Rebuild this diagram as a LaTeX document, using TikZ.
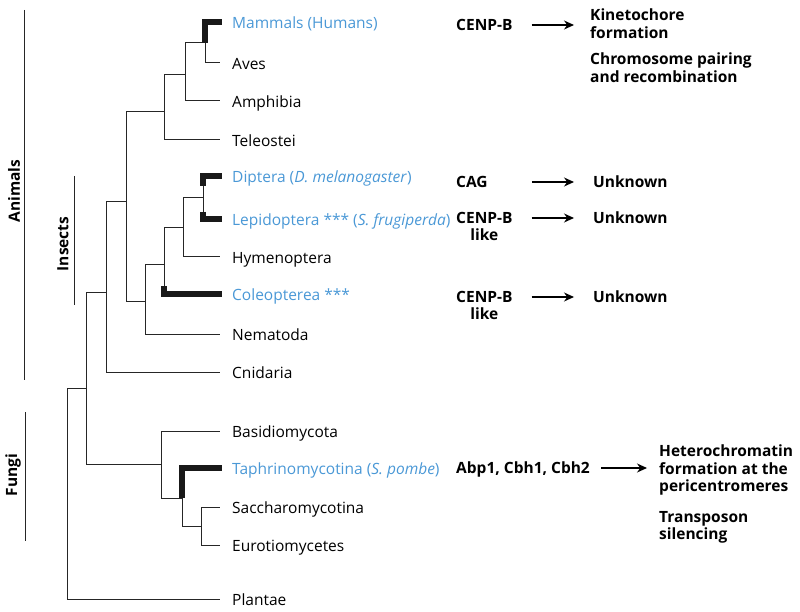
\documentclass[tikz,border=0pt]{standalone}
\usepackage{fontspec}
\setmainfont{Open Sans}
\usepackage{tikz}
\usetikzlibrary{arrows.meta,positioning,calc}
\definecolor{taxblue}{RGB}{74,152,214}

\begin{document}
\begin{tikzpicture}[x=1pt,y=-1pt]
	\tikzstyle{Branch}	= [line width=1pt, black!85]
	\tikzstyle{Hit}		= [line width=6pt, black!90]
	\tikzstyle{Taxon}	= [anchor=west, inner sep=0pt, text height=11pt, text depth=3pt, yshift=-2.5pt, font=\fontsize{15.5}{18}\selectfont]
	\tikzstyle{Found}	= [Taxon, taxblue]
	\tikzstyle{Prot}	= [anchor=west, inner sep=0pt, text height=11.5pt, text depth=0pt, font=\fontsize{15.5}{18}\selectfont\bfseries]
	\tikzstyle{Role}	= [anchor=north west, inner sep=0pt, align=left, font=\fontsize{15.5}{17.5}\selectfont\bfseries]
	\tikzstyle{Group}	= [rotate=90, inner sep=0pt, font=\fontsize{15.5}{18}\selectfont\bfseries]
	\tikzstyle{Arr}		= [-{Stealth[length=10pt,width=9pt]}, line width=1.1pt]

	\useasboundingbox (0,0) rectangle (800,612);

	% tips of the tree
	\foreach \n/\y in {1/22, 2/63, 3/101, 4/140, 5/176, 6/219, 7/257, 8/294, 9/334, 10/372, 11/431, 12/468, 13/507, 14/545, 15/599}
		\coordinate (e\n) at (220,\y);
	\foreach \n/\t in {2/Aves, 3/Amphibia, 4/Teleostei, 7/Hymenoptera, 9/Nematoda, 10/Cnidaria, 11/Basidiomycota, 13/Saccharomycotina, 14/Eurotiomycetes, 15/Plantae}
		\node (t\n) [Taxon, right=12pt of e\n] {\t};
	\foreach \n/\t in {1/Mammals (Humans), 5/Diptera (\textit{D. melanogaster}), 6/Lepidoptera *** (\textit{S. frugiperda}), 8/Coleopterea ***, 12/Taphrinomycotina (\textit{S. pombe})}
		\node (t\n) [Found, right=12pt of e\n] {\t};

	% inner nodes
	\foreach \c/\x/\y in {r/67/388, a1/86/388, an/106/292, b/126/202, v/164/112, u/185/75, w/205/43, c/145/301, i/164/265, j/183/228, k/203/198, fu/161/464, f2/182/498, f3/201/526}
		\coordinate (\c) at (\x,\y);
	\foreach \p/\c in {r/a1, r/e15, a1/an, a1/fu, an/b, an/e10, b/v, b/c, v/u, v/e4, u/w, u/e3, w/e2, c/i, c/e9, i/j, i/e8, j/k, j/e7, k/e5, k/e6, fu/e11, fu/f2, f2/f3, f3/e13, f3/e14}
		\draw [Branch] (\p) |- (\c);
	\draw [Hit] (w) |- ($(e1)+(2,0)$);
	\draw [Hit] (f2) |- ($(e12)+(2,0)$);
	\draw [Hit] ($(k |- e5)+(0,10)$) |- ($(e5)+(2,0)$);
	\draw [Hit] ($(k |- e6)+(0,-7)$) |- ($(e6)+(2,0)$);
	\draw [Hit] ($(i |- e8)+(0,-8)$) |- ($(e8)+(2,0)$);

	% groups
	\coordinate (ga) at (24,10);	\coordinate (gb) at (24,380);
	\coordinate (gc) at (74,176);	\coordinate (gd) at (74,305);
	\coordinate (ge) at (25,412);	\coordinate (gf) at (25,541);
	\draw [Branch] (ga) -- (gb);
	\draw [Branch] (gc) -- (gd);
	\draw [Branch] (ge) -- (gf);
	\node (animals) at (14,191) [Group] {Animals};
	\node (insects) at (63,244) [Group] {Insects};
	\node (fungi) at (13,475) [Group] {Fungi};

	% proteins and what they do
	\node (p1) at (456,25) [Prot] {CENP-B};
	\node (p2) at (456,182) [Prot] {CAG};
	\node (p3) at (456,218) [Prot] {CENP-B};
	\node (p4) at (456,297) [Prot] {CENP-B};
	\node (p5) at (456,468) [Prot] {Abp1, Cbh1, Cbh2};
	\node (l3) [Prot, anchor=north, below=5pt of p3] {like};
	\node (l4) [Prot, anchor=north, below=5pt of p4] {like};

	\node (o1) at (590,9) [Role] {Kinetochore\\formation};
	\node (o1b) at (590,53) [Role] {Chromosome pairing\\and recombination};
	\node (o2) at (593,182) [Prot] {Unknown};
	\node (o3) at (593,218) [Prot] {Unknown};
	\node (o4) at (593,297) [Prot] {Unknown};
	\node (o5) at (659,445) [Role] {Heterochromatin\\formation at the\\pericentromeres};
	\node (o5b) at (659,511) [Role] {Transposon\\silencing};

	\draw [Arr] ($(p1.east)+(19,0)$) -- ($(o1.west |- p1)+(-16,0)$);
	\draw [Arr] ($(p2.east)+(44,0)$) -- ($(o2.west)+(-19,0)$);
	\draw [Arr] ($(p3.east)+(19,0)$) -- ($(o3.west)+(-19,0)$);
	\draw [Arr] ($(p4.east)+(19,0)$) -- ($(o4.west)+(-19,0)$);
	\draw [Arr] ($(p5.east)+(11,0)$) -- ($(o5.west |- p5)+(-12,0)$);
\end{tikzpicture}
\end{document}
